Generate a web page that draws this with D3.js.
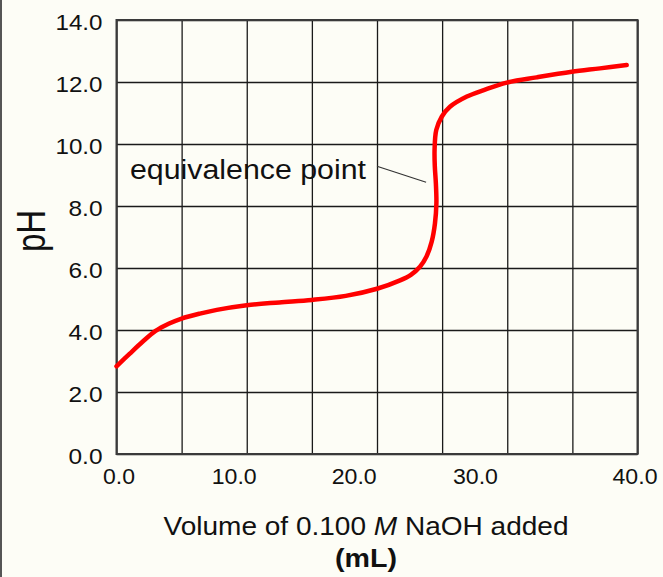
<!DOCTYPE html>
<html>
<head>
<meta charset="utf-8">
<script src="https://cdn.jsdelivr.net/npm/d3@7"></script>
<style>
  html, body { margin: 0; padding: 0; background: #fdfdf6; }
  svg { display: block; }
  text { font-family: Arial, "Liberation Sans", sans-serif; fill: #111; }
</style>
</head>
<body>
<svg id="chart" width="663" height="577"></svg>
<script>
// ---- data ----
const volume = [0, 1, 2, 3, 4, 5, 6.4, 7.7, 10, 12.5, 15, 17.6, 20, 21.77, 22.6, 23.3, 23.8, 24.2, 24.45, 24.56, 24.52, 24.44, 24.42, 24.55, 24.97, 25.6, 26.9, 28.2, 29.96, 32.26, 34.95, 37.12, 39.17];
const pH     = [2.83, 3.23, 3.62, 3.97, 4.2, 4.37, 4.53, 4.65, 4.8, 4.89, 4.97, 5.1, 5.33, 5.6, 5.78, 6.04, 6.37, 6.85, 7.44, 8.09, 8.73, 9.27, 9.81, 10.45, 10.88, 11.2, 11.53, 11.74, 11.98, 12.15, 12.33, 12.44, 12.55];
const yTicks = [0, 2, 4, 6, 8, 10, 12, 14];
const xGrid = [0, 5, 10, 15, 20, 25, 30, 35, 40];
const xTickLabels = ["0.0", "10.0", "20.0", "30.0", "40.0"];
const xTickLabelAt = [0.19, 9.04, 18.25, 27.56, 39.81];
const annotationText = "equivalence point";
const annotationFrom = [20.0, 9.25];   // data coords of leader start
const annotationTo = [24.0, 8.8];      // data coords of leader end
const xTitle = ["Volume of 0.100 ", "M", " NaOH added"];
const xTitle2 = "(mL)";
const yTitle = "pH";

// ---- layout ----
const svg = d3.select("#chart");
const L = 116.5, R = 637.5, T = 20, B = 454;
const x = d3.scaleLinear().domain([0, 40]).range([L, R]);
const y = d3.scaleLinear().domain([0, 14]).range([B, T]);

svg.append("rect").attr("width", 663).attr("height", 577).attr("fill", "#fdfdf6");
svg.append("line").attr("x1", 1).attr("x2", 1).attr("y1", 0).attr("y2", 577)
  .attr("stroke", "#555").attr("stroke-width", 2);

// vertical grid
const gx = svg.append("g").attr("transform", `translate(0,${B})`)
  .call(d3.axisBottom(x).tickValues(xGrid).tickSize(-(B - T)).tickFormat(""));
gx.select(".domain").remove();
gx.selectAll(".tick line").attr("stroke", "#1a1a1a").attr("stroke-width", 1.3);

// horizontal grid + y labels
const gy = svg.append("g").attr("transform", `translate(${L},0)`)
  .call(d3.axisLeft(y).tickValues(yTicks).tickSize(-(R - L)).tickPadding(14).tickFormat(d3.format(".1f")));
gy.select(".domain").remove();
gy.selectAll(".tick line").attr("stroke", "#1a1a1a").attr("stroke-width", 1.3);
gy.selectAll(".tick text")
  .attr("font-size", 22).attr("fill", "#111")
  .attr("font-family", "Arial, 'Liberation Sans', sans-serif")
  .attr("dy", null).attr("y", 9.5)
  .attr("textLength", d => d >= 10 ? 47 : 34).attr("lengthAdjust", "spacingAndGlyphs");

// border
svg.append("rect").attr("x", L).attr("y", T).attr("width", R - L).attr("height", B - T)
  .attr("fill", "none").attr("stroke", "#3a3a3a").attr("stroke-width", 2);

// x labels
svg.append("g").selectAll("text").data(xTickLabels).join("text")
  .attr("x", (d, i) => x(xTickLabelAt[i]))
  .attr("y", 484)
  .attr("text-anchor", "middle")
  .attr("font-size", 22)
  .attr("textLength", d => d.length > 3 ? 45 : 32)
  .attr("lengthAdjust", "spacingAndGlyphs")
  .text(d => d);

// curve
svg.append("path")
  .datum(volume.map((v, i) => [v, pH[i]]))
  .attr("fill", "none")
  .attr("stroke", "#ff0000")
  .attr("stroke-width", 4.5)
  .attr("stroke-linecap", "round")
  .attr("stroke-linejoin", "round")
  .attr("d", d3.line().x(d => x(d[0])).y(d => y(d[1])).curve(d3.curveCatmullRom.alpha(0.5)));

// annotation
svg.append("text").attr("x", 130).attr("y", 179)
  .attr("font-size", 27).attr("textLength", 236).attr("lengthAdjust", "spacingAndGlyphs")
  .text(annotationText);
svg.append("line")
  .attr("x1", x(annotationFrom[0])).attr("y1", y(annotationFrom[1]) - 1)
  .attr("x2", x(annotationTo[0]) - 3).attr("y2", y(annotationTo[1]) + 1)
  .attr("stroke", "#333").attr("stroke-width", 1.2);

// x title
const t1 = svg.append("text").attr("x", 366).attr("y", 535).attr("text-anchor", "middle")
  .attr("font-size", 26).attr("textLength", 405).attr("lengthAdjust", "spacingAndGlyphs");
t1.append("tspan").text(xTitle[0]);
t1.append("tspan").attr("font-style", "italic").text(xTitle[1]);
t1.append("tspan").text(xTitle[2]);
svg.append("text").attr("x", 366).attr("y", 567).attr("text-anchor", "middle")
  .attr("font-size", 26).attr("font-weight", "bold")
  .attr("textLength", 62).attr("lengthAdjust", "spacingAndGlyphs")
  .text(xTitle2);

// y title
svg.append("text")
  .attr("transform", "translate(45,231) rotate(-90) scale(1,1.25)")
  .attr("text-anchor", "middle")
  .attr("font-size", 33)
  .text(yTitle);
</script>
</body>
</html>
